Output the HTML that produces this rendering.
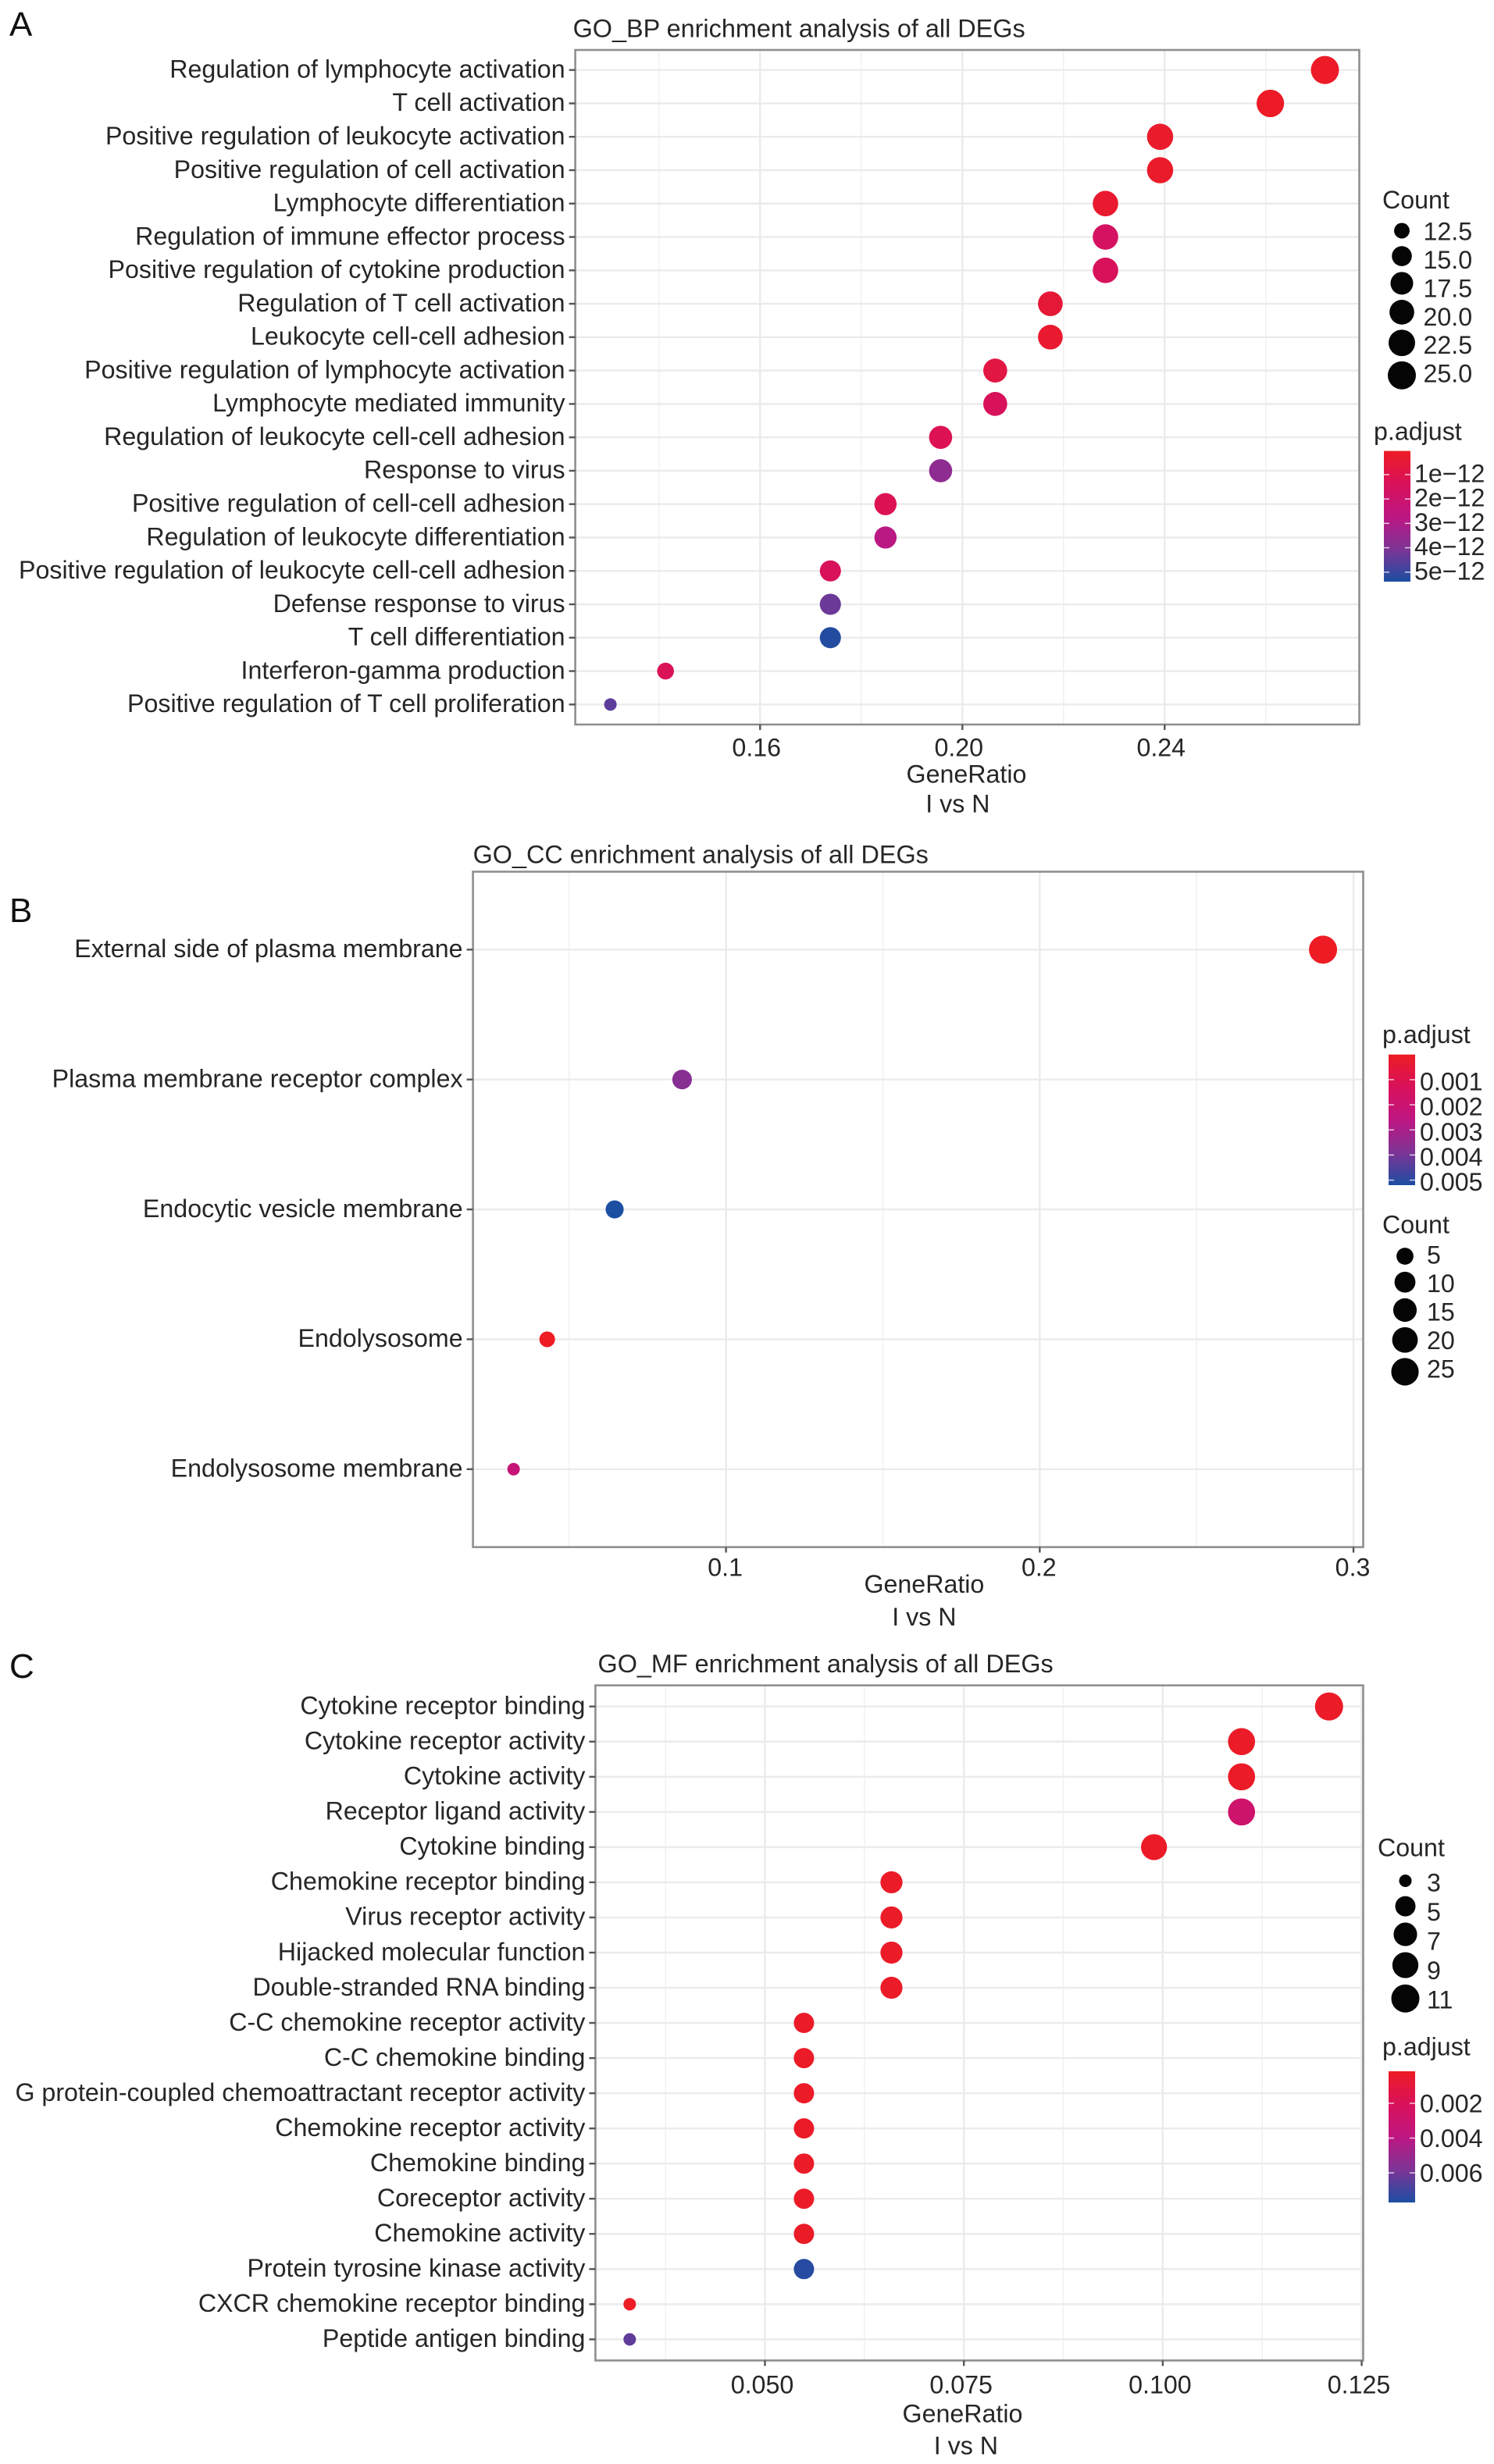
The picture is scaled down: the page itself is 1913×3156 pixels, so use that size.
<!DOCTYPE html>
<html lang="en">
<head>
<meta charset="utf-8">
<title>GO enrichment analysis of all DEGs</title>
<style>
html,body{margin:0;padding:0;background:#fff;}
svg{display:block;}
text{font-family:"Liberation Sans",Arial,sans-serif;fill:#262626;}
</style>
</head>
<body>
<svg id="root" xmlns="http://www.w3.org/2000/svg" width="1913" height="3156" viewBox="0 0 1913 3156">
  <rect x="0" y="0" width="1913" height="3156" fill="#ffffff"></rect>
  <text x="12" y="46" font-size="44" style="fill:#111">A</text>
  <text x="12" y="1181" font-size="44" style="fill:#111">B</text>
  <text x="12" y="2149" font-size="44" style="fill:#111">C</text>
</svg>
<script>
/* ---------- Panel A data: GO_BP ---------- */
const bpTerms = ["Regulation of lymphocyte activation","T cell activation","Positive regulation of leukocyte activation","Positive regulation of cell activation","Lymphocyte differentiation","Regulation of immune effector process","Positive regulation of cytokine production","Regulation of T cell activation","Leukocyte cell-cell adhesion","Positive regulation of lymphocyte activation","Lymphocyte mediated immunity","Regulation of leukocyte cell-cell adhesion","Response to virus","Positive regulation of cell-cell adhesion","Regulation of leukocyte differentiation","Positive regulation of leukocyte cell-cell adhesion","Defense response to virus","T cell differentiation","Interferon-gamma production","Positive regulation of T cell proliferation"];
const bpGeneRatio = [0.2717,0.2609,0.2391,0.2391,0.2283,0.2283,0.2283,0.2174,0.2174,0.2065,0.2065,0.1957,0.1957,0.1848,0.1848,0.1739,0.1739,0.1739,0.1413,0.1304];
const bpCounts = [25,24,22,22,21,21,21,20,20,19,19,18,18,17,17,16,16,16,13,12];
const bpPadjust = [0.1e-12,0.1e-12,0.2e-12,0.2e-12,0.3e-12,1.6e-12,1.4e-12,0.5e-12,0.3e-12,0.8e-12,1.4e-12,1.2e-12,3.7e-12,1.2e-12,2.8e-12,1.4e-12,4.3e-12,5.3e-12,1.3e-12,4.5e-12];
const bpXTicks = [0.16,0.20,0.24];
const bpXTickLabels = ["0.16","0.20","0.24"];
const bpXMinorTicks = [0.14,0.18,0.22,0.26];
const bpCountLegendValues = [12.5,15,17.5,20,22.5,25];
const bpCountLegendLabels = ["12.5","15.0","17.5","20.0","22.5","25.0"];
const bpColorTicks = [1e-12,2e-12,3e-12,4e-12,5e-12];
const bpColorTickLabels = ["1e\u221212","2e\u221212","3e\u221212","4e\u221212","5e\u221212"];

/* ---------- Panel B data: GO_CC ---------- */
const ccTerms = ["External side of plasma membrane","Plasma membrane receptor complex","Endocytic vesicle membrane","Endolysosome","Endolysosome membrane"];
const ccGeneRatio = [0.2903,0.0860,0.0645,0.0430,0.0323];
const ccCounts = [27,8,6,4,3];
const ccPadjust = [0.00001,0.0037,0.0052,0.00003,0.0022];
const ccXTicks = [0.1,0.2,0.3];
const ccXTickLabels = ["0.1","0.2","0.3"];
const ccXMinorTicks = [0.05,0.15,0.25];
const ccCountLegendValues = [5,10,15,20,25];
const ccCountLegendLabels = ["5","10","15","20","25"];
const ccColorTicks = [0.001,0.002,0.003,0.004,0.005];
const ccColorTickLabels = ["0.001","0.002","0.003","0.004","0.005"];

/* ---------- Panel C data: GO_MF ---------- */
const mfTerms = ["Cytokine receptor binding","Cytokine receptor activity","Cytokine activity","Receptor ligand activity","Cytokine binding","Chemokine receptor binding","Virus receptor activity","Hijacked molecular function","Double-stranded RNA binding","C-C chemokine receptor activity","C-C chemokine binding","G protein-coupled chemoattractant receptor activity","Chemokine receptor activity","Chemokine binding","Coreceptor activity","Chemokine activity","Protein tyrosine kinase activity","CXCR chemokine receptor binding","Peptide antigen binding"];
const mfGeneRatio = [0.1209,0.1099,0.1099,0.1099,0.0989,0.0659,0.0659,0.0659,0.0659,0.0549,0.0549,0.0549,0.0549,0.0549,0.0549,0.0549,0.0549,0.0330,0.0330];
const mfCounts = [11,10,10,10,9,6,6,6,6,5,5,5,5,5,5,5,5,3,3];
const mfPadjust = [0.0003,0.0003,0.0003,0.0029,0.0003,0.0003,0.0003,0.0003,0.0003,0.0003,0.0003,0.0003,0.0003,0.0003,0.0003,0.0003,0.0075,0.0002,0.0064];
const mfXTicks = [0.050,0.075,0.100,0.125];
const mfXTickLabels = ["0.050","0.075","0.100","0.125"];
const mfXMinorTicks = [0.0375,0.0625,0.0875,0.1125];
const mfCountLegendValues = [3,5,7,9,11];
const mfCountLegendLabels = ["3","5","7","9","11"];
const mfColorTicks = [0.002,0.004,0.006];
const mfColorTickLabels = ["0.002","0.004","0.006"];

/* ---------- Shared colour ramp stops (red to blue) ---------- */
const rampOffsets = [0,0.25,0.5,0.75,1];
const rampColors = [[237,28,36],[217,17,90],[190,22,130],[125,52,150],[28,78,162]];

const SVGNS = 'http://www.w3.org/2000/svg';
const root = document.getElementById('root');
const FS = 32.2;
const TITLE_FS = 32.4;
const R_MIN = 8, R_MAX = 18;

function make(tag, attrs, parent){
  const el = document.createElementNS(SVGNS, tag);
  for (const k in attrs) el.setAttribute(k, attrs[k]);
  (parent || root).appendChild(el);
  return el;
}
function rampColor(t){
  t = Math.max(0, Math.min(1, t));
  for (let i = 1; i < rampOffsets.length; i++){
    if (t <= rampOffsets[i]){
      const f = (t - rampOffsets[i-1]) / (rampOffsets[i] - rampOffsets[i-1]);
      const a = rampColors[i-1], b = rampColors[i];
      return 'rgb(' + a.map((v, j) => Math.round(v + (b[j] - v) * f)).join(',') + ')';
    }
  }
  return 'rgb(' + rampColors[rampColors.length - 1].join(',') + ')';
}
function linear(d0, d1, r0, r1){
  return v => r0 + (v - d0) / (d1 - d0) * (r1 - r0);
}

function drawPanel(p){
  const group = make('g', {});
  
  

  const x = linear(p.xDomain[0], p.xDomain[1], p.left, p.right);
  const n = p.terms.length;
  const step = (p.bottom - p.top) / (n - 1 + 2 * p.yPad);
  const y = i => p.top + (i + p.yPad) * step;
  const radius = c => R_MIN + (R_MAX - R_MIN) * Math.sqrt(Math.max(0, c - p.countDomain[0]) / (p.countDomain[1] - p.countDomain[0]));
  const colorOf = v => rampColor((v - p.colorDomain[0]) / (p.colorDomain[1] - p.colorDomain[0]));

  const title = make('text', {x: p.titleX, y: p.titleY, 'font-size': TITLE_FS, dy: '0.36em'}, group);
  title.textContent = p.title;
  
  

  p.xMinor.forEach(v => {
    const g = make('line', {x1: x(v), x2: x(v), y1: p.top, y2: p.bottom, stroke: '#f1f1f1', 'stroke-width': 1.6}, group);
    
    
  });
  p.xTicks.forEach(v => {
    const g = make('line', {x1: x(v), x2: x(v), y1: p.top, y2: p.bottom, stroke: '#ebebeb', 'stroke-width': 2.4}, group);
    
    
  });
  p.terms.forEach((term, i) => {
    const g = make('line', {x1: p.left, x2: p.right, y1: y(i), y2: y(i), stroke: '#ebebeb', 'stroke-width': 2.4}, group);
    
    
  });

  const border = make('rect', {x: p.left, y: p.top, width: p.right - p.left, height: p.bottom - p.top, fill: 'none', stroke: '#8f8f8f', 'stroke-width': 2.6}, group);
  
  

  p.terms.forEach((term, i) => {
    const tick = make('line', {x1: p.left - 8, x2: p.left, y1: y(i), y2: y(i), stroke: '#555', 'stroke-width': 2.4}, group);
    
    
    const label = make('text', {x: p.left - 13, y: y(i) - 1.8, 'text-anchor': 'end', 'font-size': FS, dy: '0.36em'}, group);
    label.textContent = term;
    
    
  });

  p.xTicks.forEach((v, i) => {
    const tick = make('line', {x1: x(v), x2: x(v), y1: p.bottom, y2: p.bottom + 7, stroke: '#555', 'stroke-width': 2.4}, group);
    
    
    const label = make('text', {x: x(v) - p.xLabelShift, y: p.xLabelY, 'text-anchor': 'middle', 'font-size': FS, dy: '0.36em'}, group);
    label.textContent = p.xTickLabels[i];
    
    
  });

  const xt = make('text', {x: p.xTitleX, y: p.xTitleY, 'text-anchor': 'middle', 'font-size': FS, dy: '0.36em'}, group);
  xt.textContent = 'GeneRatio';
  
  
  const xs = make('text', {x: p.xSubX, y: p.xSubY, 'text-anchor': 'middle', 'font-size': FS, dy: '0.36em'}, group);
  xs.textContent = 'I vs N';
  
  

  p.ratio.forEach((v, i) => {
    const dot = make('circle', {cx: x(v), cy: y(i), r: radius(p.counts[i]), fill: colorOf(p.padjust[i])}, group);
    
    
  });

  /* Count legend */
  const c = p.countLegend;
  const ct = make('text', {x: c.titleX, y: c.titleY, 'font-size': FS, dy: '0.36em'}, group);
  ct.textContent = 'Count';
  
  
  c.values.forEach((v, i) => {
    const key = make('circle', {cx: c.dotX, cy: c.dotY0 + c.dotA * i + c.dotB * i * i, r: radius(v), fill: '#050505'}, group);
    
    
    const lab = make('text', {x: c.labelX, y: c.labelY0 + c.labelStep * i, 'font-size': FS, dy: '0.36em'}, group);
    lab.textContent = c.labels[i];
    
    
  });

  /* p.adjust colour bar */
  const b = p.colorLegend;
  const pt = make('text', {x: b.titleX, y: b.titleY, 'font-size': FS, dy: '0.36em'}, group);
  pt.textContent = 'p.adjust';
  
  
  const grad = make('linearGradient', {id: p.name + '-grad', x1: 0, y1: 0, x2: 0, y2: 1}, group);
  rampOffsets.forEach((o, i) => {
    make('stop', {offset: o, 'stop-color': 'rgb(' + rampColors[i].join(',') + ')'}, grad);
  });
  const bar = make('rect', {x: b.x, y: b.top, width: b.w, height: b.bottom - b.top, fill: 'url(#' + p.name + '-grad)'}, group);
  
  
  const by = linear(p.colorDomain[0], p.colorDomain[1], b.top, b.bottom);
  b.ticks.forEach((v, i) => {
    const t1 = make('line', {x1: b.x, x2: b.x + 7, y1: by(v), y2: by(v), stroke: '#fff', 'stroke-opacity': 0.75, 'stroke-width': 1.5}, group);
    
    
    const t2 = make('line', {x1: b.x + b.w - 7, x2: b.x + b.w, y1: by(v), y2: by(v), stroke: '#fff', 'stroke-opacity': 0.75, 'stroke-width': 1.5}, group);
    
    
    const lab = make('text', {x: b.labelX, y: by(v) + b.labelDy, 'font-size': FS, dy: '0.36em'}, group);
    lab.textContent = b.labels[i];
    
    
  });
}

drawPanel({
  name: 'panel-go-bp', title: 'GO_BP enrichment analysis of all DEGs', titleX: 733.6, titleY: 35.8,
  left: 736.6, right: 1740.5, top: 64, bottom: 928, yPad: 0.6,
  xDomain: [0.12345,0.27849], xLabelShift: 4.5, xLabelY: 956.7,
  xTitleX: 1237.5, xTitleY: 991, xSubX: 1226.4, xSubY: 1029,
  terms: bpTerms, ratio: bpGeneRatio, counts: bpCounts, padjust: bpPadjust,
  xTicks: bpXTicks, xTickLabels: bpXTickLabels, xMinor: bpXMinorTicks,
  countDomain: [12,25], colorDomain: [0.03e-12,5.39e-12],
  countLegend: {titleX: 1770, titleY: 255.6, dotX: 1795, dotY0: 295.5, dotA: 31.4, dotB: 1.13, labelX: 1822.5, labelY0: 296, labelStep: 36.4, values: bpCountLegendValues, labels: bpCountLegendLabels},
  colorLegend: {titleX: 1759, titleY: 552, x: 1772, w: 34, top: 577.6, bottom: 745, labelX: 1811, labelDy: -2, ticks: bpColorTicks, labels: bpColorTickLabels}
});
drawPanel({
  name: 'panel-go-cc', title: 'GO_CC enrichment analysis of all DEGs', titleX: 605.6, titleY: 1094,
  left: 605.6, right: 1745.5, top: 1116.5, bottom: 1981.6, yPad: 0.6,
  xDomain: [0.01934,0.3031], xLabelShift: 1, xLabelY: 2006.7,
  xTitleX: 1183.4, xTitleY: 2028.4, xSubX: 1183.4, xSubY: 2070.5,
  terms: ccTerms, ratio: ccGeneRatio, counts: ccCounts, padjust: ccPadjust,
  xTicks: ccXTicks, xTickLabels: ccXTickLabels, xMinor: ccXMinorTicks,
  countDomain: [3,27], colorDomain: [0,0.0052],
  countLegend: {titleX: 1770, titleY: 1568, dotX: 1799, dotY0: 1609, dotA: 32, dotB: 1.25, labelX: 1827, labelY0: 1607, labelStep: 36.5, values: ccCountLegendValues, labels: ccCountLegendLabels},
  colorLegend: {titleX: 1770, titleY: 1324.4, x: 1778, w: 34, top: 1350.7, bottom: 1518, labelX: 1818, labelDy: 2, ticks: ccColorTicks, labels: ccColorTickLabels}
});
drawPanel({
  name: 'panel-go-mf', title: 'GO_MF enrichment analysis of all DEGs', titleX: 765.5, titleY: 2130.5,
  left: 762.4, right: 1745.5, top: 2158.7, bottom: 3023.4, yPad: 0.6,
  xDomain: [0.02869,0.12519], xLabelShift: 3.5, xLabelY: 3054,
  xTitleX: 1232.5, xTitleY: 3091, xSubX: 1236.9, xSubY: 3131.8,
  terms: mfTerms, ratio: mfGeneRatio, counts: mfCounts, padjust: mfPadjust,
  xTicks: mfXTicks, xTickLabels: mfXTickLabels, xMinor: mfXMinorTicks,
  countDomain: [3,11], colorDomain: [0.00016,0.0077],
  countLegend: {titleX: 1764, titleY: 2366, dotX: 1799.5, dotY0: 2409, dotA: 30.9, dotB: 1.7, labelX: 1827, labelY0: 2411, labelStep: 37.5, values: mfCountLegendValues, labels: mfCountLegendLabels},
  colorLegend: {titleX: 1770, titleY: 2621, x: 1778, w: 34, top: 2653, bottom: 2821, labelX: 1818, labelDy: 0, ticks: mfColorTicks, labels: mfColorTickLabels}
});
</script>
</body>
</html>
